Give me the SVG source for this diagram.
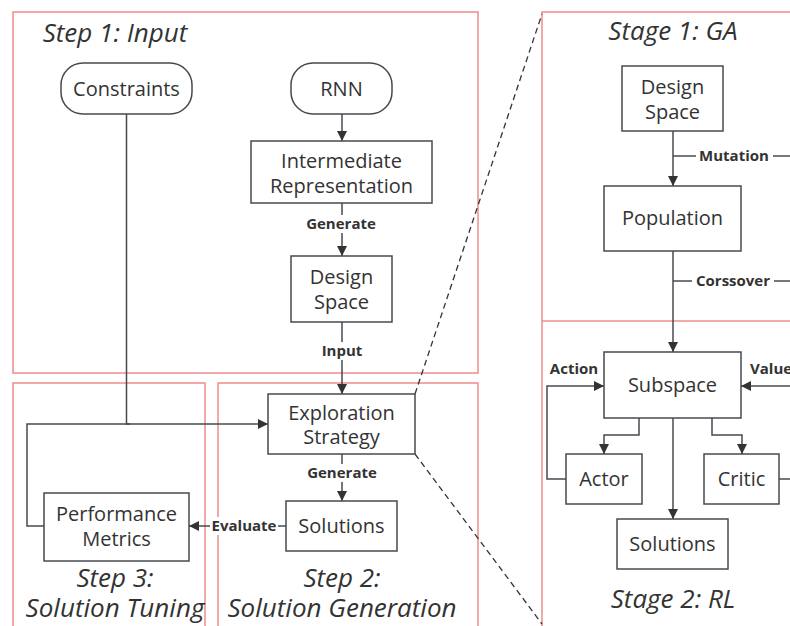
<svg xmlns="http://www.w3.org/2000/svg" width="790" height="626" viewBox="0 0 790 626">
<style>
.frame{fill:none;stroke:#f08c8c;stroke-width:1.5}
.node{fill:#fff;stroke:#464a4f;stroke-width:1.5}
.t{font-family:"Open Sans","Noto Sans",sans-serif;font-size:20px;fill:#333;text-anchor:middle}
.title{font-family:"Open Sans","Noto Sans",sans-serif;font-size:26px;font-style:italic;fill:#333;text-anchor:middle}
.lbl{font-family:"Open Sans","Noto Sans",sans-serif;font-size:15px;font-weight:bold;fill:#333;text-anchor:middle}
.e{fill:none;stroke:#464a4f;stroke-width:1.5}
.d{fill:none;stroke:#333;stroke-width:1.3;stroke-dasharray:6 4}
.bg{fill:#fff}
</style>
<defs>
<marker id="arr" viewBox="0 0 10 10" refX="10" refY="5" markerWidth="10" markerHeight="10" markerUnits="userSpaceOnUse" orient="auto">
<path d="M0,0 L10,5 L0,10 z" fill="#333"/>
</marker>
</defs>
<g id="frames">
<rect class="frame" x="13" y="12" width="465" height="361"/>
<rect class="frame" x="13" y="383" width="192" height="260"/>
<rect class="frame" x="218" y="383" width="260" height="260"/>
<rect class="frame" x="542" y="12" width="270" height="640"/>
<line class="frame" x1="542" y1="321" x2="790" y2="321"/>
<text class="title" x="115" y="42">Step 1: Input</text>
<text class="title" x="115" y="587">Step 3:</text>
<text class="title" x="115" y="617">Solution Tuning</text>
<text class="title" x="342" y="587">Step 2:</text>
<text class="title" x="342" y="617">Solution Generation</text>
<text class="title" x="673" y="40">Stage 1: GA</text>
<text class="title" x="673" y="608">Stage 2: RL</text>
</g>
<g id="connectors">
<line class="d" x1="415" y1="394" x2="542" y2="14"/>
<line class="d" x1="415" y1="454" x2="542" y2="624"/>
<line class="e" x1="342" y1="114" x2="342" y2="141" marker-end="url(#arr)"/>
<line class="e" x1="342" y1="203" x2="342" y2="256" marker-end="url(#arr)"/>
<rect class="bg" x="302" y="215" width="80" height="18"/>
<text class="lbl" x="341" y="229">Generate</text>
<line class="e" x1="342" y1="322" x2="342" y2="394" marker-end="url(#arr)"/>
<rect class="bg" x="318" y="342" width="48" height="18"/>
<text class="lbl" x="342" y="356">Input</text>
<line class="e" x1="342" y1="454" x2="342" y2="501" marker-end="url(#arr)"/>
<rect class="bg" x="303" y="464" width="78" height="18"/>
<text class="lbl" x="342" y="478">Generate</text>
<line class="e" x1="286" y1="526" x2="189" y2="526" marker-end="url(#arr)"/>
<rect class="bg" x="210" y="517" width="68" height="18"/>
<text class="lbl" x="244" y="531">Evaluate</text>
<polyline class="e" points="126.5,114 126.5,424 268,424" marker-end="url(#arr)"/>
<polyline class="e" points="44,526 27,526 27,424 130,424"/>
<line class="e" x1="673" y1="131" x2="673" y2="186" marker-end="url(#arr)"/>
<line class="e" x1="673" y1="156" x2="790" y2="156"/>
<rect class="bg" x="696" y="147" width="77" height="18"/>
<text class="lbl" x="734" y="161">Mutation</text>
<line class="e" x1="673" y1="251" x2="673" y2="352" marker-end="url(#arr)"/>
<line class="e" x1="673" y1="281" x2="790" y2="281"/>
<rect class="bg" x="692" y="272" width="82" height="18"/>
<text class="lbl" x="733" y="286">Corssover</text>
<polyline class="e" points="639,418 639,435 604,435 604,454" marker-end="url(#arr)"/>
<polyline class="e" points="712,418 712,435 742,435 742,454" marker-end="url(#arr)"/>
<line class="e" x1="673" y1="418" x2="673" y2="519" marker-end="url(#arr)"/>
<polyline class="e" points="566,479 547,479 547,386 604,386" marker-end="url(#arr)"/>
<text class="lbl" x="574" y="374">Action</text>
<line class="e" x1="790" y1="386" x2="741" y2="386" marker-end="url(#arr)"/>
<text class="lbl" x="750" y="374" style="text-anchor:start">Value</text>
<line class="e" x1="779" y1="479" x2="790" y2="479"/>
</g>
<g id="n-constraints"><rect class="node" x="61" y="63" width="131" height="51" rx="22"/><text class="t" x="126.5" y="96">Constraints</text></g>
<g id="n-rnn"><rect class="node" x="291" y="63" width="101" height="51" rx="22"/><text class="t" x="341.5" y="96">RNN</text></g>
<g id="n-ir"><rect class="node" x="251" y="141" width="181" height="62"/><text class="t" x="341.5" y="168">Intermediate</text><text class="t" x="341.5" y="193">Representation</text></g>
<g id="n-ds"><rect class="node" x="291" y="256" width="101" height="66"/><text class="t" x="341.5" y="284">Design</text><text class="t" x="341.5" y="309">Space</text></g>
<g id="n-es"><rect class="node" x="268" y="394" width="147" height="60"/><text class="t" x="341.5" y="420">Exploration</text><text class="t" x="341.5" y="444">Strategy</text></g>
<g id="n-sol"><rect class="node" x="286" y="501" width="111" height="50"/><text class="t" x="341.5" y="533">Solutions</text></g>
<g id="n-pm"><rect class="node" x="44" y="493" width="145" height="68"/><text class="t" x="116.5" y="521">Performance</text><text class="t" x="116.5" y="546">Metrics</text></g>
<g id="n-gads"><rect class="node" x="622" y="66" width="101" height="65"/><text class="t" x="672.5" y="94">Design</text><text class="t" x="672.5" y="119">Space</text></g>
<g id="n-pop"><rect class="node" x="604" y="186" width="137" height="65"/><text class="t" x="672.5" y="225">Population</text></g>
<g id="n-sub"><rect class="node" x="604" y="352" width="137" height="66"/><text class="t" x="672.5" y="392">Subspace</text></g>
<g id="n-actor"><rect class="node" x="566" y="454" width="76" height="50"/><text class="t" x="604" y="486">Actor</text></g>
<g id="n-critic"><rect class="node" x="704" y="454" width="75" height="50"/><text class="t" x="741.5" y="486">Critic</text></g>
<g id="n-rlsol"><rect class="node" x="617" y="519" width="111" height="50"/><text class="t" x="672.5" y="551">Solutions</text></g>
</svg>
